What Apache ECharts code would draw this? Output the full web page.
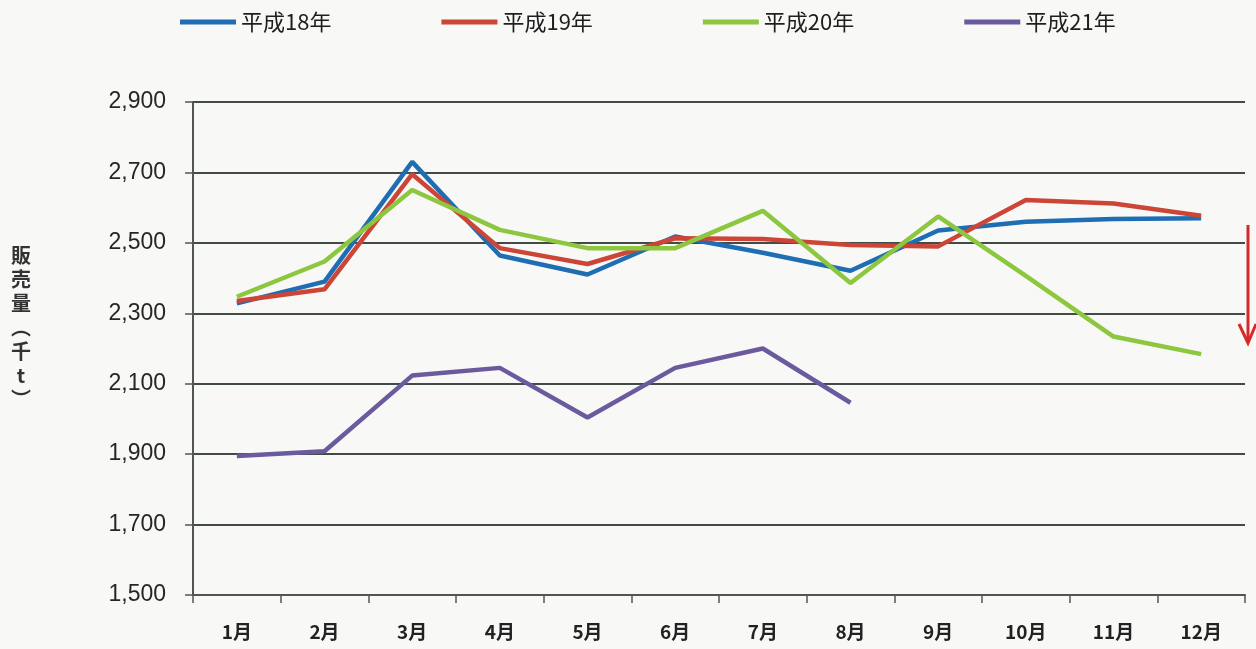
<!DOCTYPE html>
<html>
<head>
<meta charset="utf-8">
<script src="https://cdn.jsdelivr.net/npm/echarts@6/dist/echarts.min.js"></script>
<style>
html,body{margin:0;padding:0;background:#f8f9f6;}
#c{width:1256px;height:649px;}
</style>
</head>
<body>
<div id="c"></div>
<script>
const months = ['1月','2月','3月','4月','5月','6月','7月','8月','9月','10月','11月','12月'];
const seriesNames = ['平成18年','平成19年','平成20年','平成21年'];
const h18 = [2328, 2390, 2730, 2464, 2410, 2518, 2472, 2421, 2535, 2560, 2568, 2570];
const h19 = [2335, 2368, 2695, 2485, 2440, 2513, 2511, 2494, 2490, 2622, 2612, 2577];
const h20 = [2347, 2447, 2650, 2537, 2485, 2485, 2591, 2386, 2575, 2406, 2234, 2184];
const h21 = [1895, 1908, 2123, 2145, 2004, 2145, 2200, 2046];
const yMin = 1500, yMax = 2900, yStep = 200;
const colors = ['#1f6db3', '#cc4537', '#8dc63f', '#6b5b9e'];

const chart = echarts.init(document.getElementById('c'));
const fontJP = '"Noto Sans CJK JP", sans-serif';
const axisCol = '#505753';

chart.setOption({
  backgroundColor: '#f8f9f6',
  animation: false,
  color: colors,
  legend: {
    top: 6,
    left: 175,
    icon: 'rect',
    itemWidth: 56,
    itemHeight: 5,
    itemGap: 110,
    textStyle: {fontFamily: fontJP, fontSize: 22, fontWeight: 'normal', color: '#1e1e1e', padding: [0,0,0,0]},
    data: seriesNames
  },
  grid: {left: 193, right: 11, top: 102, bottom: 54, containLabel: false},
  xAxis: {
    type: 'category',
    data: months,
    boundaryGap: true,
    axisLine: {lineStyle: {color: axisCol, width: 2}},
    axisTick: {show: true, length: 8, lineStyle: {color: axisCol, width: 1.5}},
    axisLabel: {fontFamily: fontJP, fontSize: 19, fontWeight: 'bold', color: '#222', margin: 27}
  },
  yAxis: [
    {
      type: 'value', min: yMin, max: yMax,
      axisLine: {show: false}, axisTick: {show: false}, axisLabel: {show: false}, splitLine: {show: false}
    },
    {
      type: 'value', min: 0, max: yMax - yMin, interval: yStep,
      position: 'left',
      axisLine: {show: true, lineStyle: {color: axisCol, width: 2}},
      axisTick: {show: true, length: 8, lineStyle: {color: axisCol, width: 1.5}},
      axisLabel: {
        fontFamily: '"Liberation Sans", sans-serif', fontSize: 23, color: '#262626', margin: 27,
        formatter: v => (v + yMin).toLocaleString('en-US')
      },
      splitLine: {show: true, lineStyle: {color: '#434b46', width: 2}}
    }
  ],
  series: [
    {name: seriesNames[0], type: 'line', data: h18, yAxisIndex: 0, symbol: 'none', lineStyle: {width: 4.5}},
    {name: seriesNames[1], type: 'line', data: h19, yAxisIndex: 0, symbol: 'none', lineStyle: {width: 4.5}},
    {name: seriesNames[2], type: 'line', data: h20, yAxisIndex: 0, symbol: 'none', lineStyle: {width: 4.5}},
    {name: seriesNames[3], type: 'line', data: h21, yAxisIndex: 0, symbol: 'none', lineStyle: {width: 4.5}}
  ],
  graphic: [
    {
      type: 'text', x: 21, y: 243,
      style: {text: '販\n売\n量\n︵\n千\nt\n︶', font: 'bold 20px ' + fontJP, fill: '#333', align: 'center', lineHeight: 24}
    },
    {
      type: 'line', shape: {x1: 1248, y1: 225, x2: 1248, y2: 340},
      style: {stroke: '#d42a2a', lineWidth: 3}
    },
    {
      type: 'polyline', shape: {points: [[1239, 324], [1248, 343], [1256, 324]]},
      style: {stroke: '#d42a2a', lineWidth: 3, fill: null}
    }
  ]
});
</script>
</body>
</html>
